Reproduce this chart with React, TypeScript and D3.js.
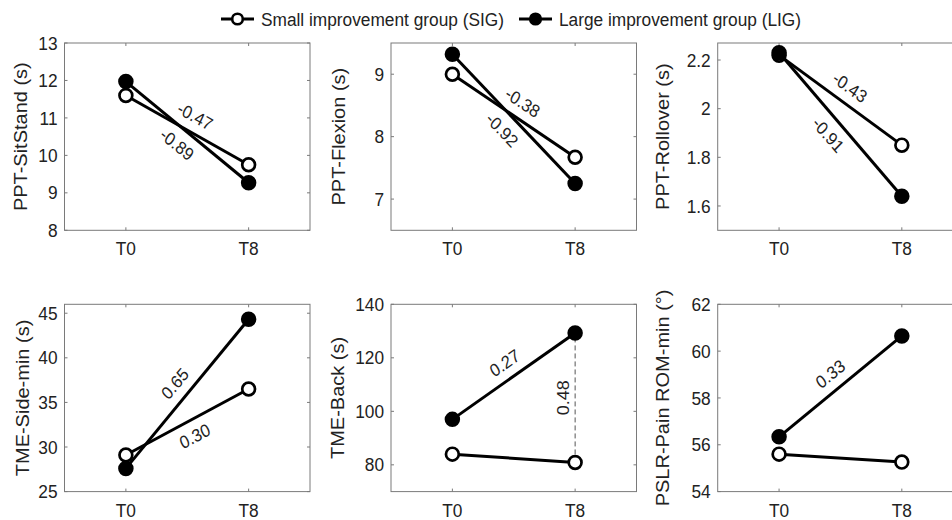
import React from "react";
import * as d3 from "d3";

// ---------- data ----------
const timepoints = ["T0", "T8"];
const measures = [
  "PPT-SitStand (s)",
  "PPT-Flexion (s)",
  "PPT-Rollover (s)",
  "TME-Side-min (s)",
  "TME-Back (s)",
  "PSLR-Pain ROM-min (°)",
];
const sigT0 = [11.6, 9.0, 2.22, 29.1, 84.0, 55.6];
const sigT8 = [9.75, 7.67, 1.85, 36.5, 80.9, 55.26];
const ligT0 = [11.97, 9.32, 2.23, 27.6, 97.0, 56.34];
const ligT8 = [9.27, 7.25, 1.64, 44.33, 129.3, 60.65];
const sigEffect = ["-0.47", "-0.38", "-0.43", "0.30", "", ""];
const ligEffect = ["-0.89", "-0.92", "-0.91", "0.65", "0.27", "0.33"];
const betweenEffectT8 = ["", "", "", "", "0.48", ""];
const yDomains: [number, number][] = [
  [8, 13],
  [6.5, 9.5],
  [1.5, 2.27],
  [25, 46],
  [70, 140],
  [54, 62],
];
const yTicks = [
  [8, 9, 10, 11, 12, 13],
  [7, 8, 9],
  [1.6, 1.8, 2, 2.2],
  [25, 30, 35, 40, 45],
  [80, 100, 120, 140],
  [54, 56, 58, 60, 62],
];
const legendLabels = ["Small improvement group (SIG)", "Large improvement group (LIG)"];

// ---------- layout ----------
const W = 952;
const H = 520;
const colLeft = [64.5, 391, 717.7];
const rowTop = [43, 304.3];
const boxW = 245.5;
const boxH = 187.3;
const ylabelX = [21, 339, 663, 23, 337.5, 663];
// label side: +1 above line, -1 below line
const sigSide = [1, 1, 1, -1, 1, 1];
const ligSide = [-1, -1, -1, 1, 1, 1];
const FONT = "'Liberation Sans', Arial, Helvetica, sans-serif";
const SX = 0.91;
const TXT = "#222222";
const AX = "#7a7a7a";

function Txt({ x, y, rot = 0, anchor = "middle", size = 19, dy = "0.35em", children, fill = TXT }: any) {
  return (
    <text
      transform={`translate(${x},${y}) scale(${SX},1) rotate(${rot})`}
      textAnchor={anchor}
      dy={dy}
      fontSize={size}
      fontFamily={FONT}
      fill={fill}
    >
      {children}
    </text>
  );
}

function EffectLabel({ p0, p1, side, text }: any) {
  if (!text) return null;
  const dx = p1[0] - p0[0];
  const dy = p1[1] - p0[1];
  const len = Math.hypot(dx, dy);
  let nx = dy / len;
  let ny = -dx / len;
  if (ny > 0) {
    nx = -nx;
    ny = -ny;
  }
  const d = 16 * side;
  const cx = (p0[0] + p1[0]) / 2 + nx * d;
  const cy = (p0[1] + p1[1]) / 2 + ny * d;
  const rot = (Math.atan2(dy, dx / SX) * 180) / Math.PI;
  return (
    <Txt x={cx} y={cy} rot={rot} size={18}>
      {text}
    </Txt>
  );
}

function Panel({ i }: { i: number }) {
  const left = colLeft[i % 3];
  const top = rowTop[Math.floor(i / 3)];
  const x = d3.scalePoint<string>().domain(timepoints).range([left, left + boxW]).padding(0.5);
  const y = d3.scaleLinear().domain(yDomains[i]).range([top + boxH, top]);
  const sig = [sigT0[i], sigT8[i]];
  const lig = [ligT0[i], ligT8[i]];
  const line = d3
    .line<number>()
    .x((_, k) => x(timepoints[k]) as number)
    .y((v) => y(v));
  const sigPts = sig.map((v, k) => [x(timepoints[k]) as number, y(v)]);
  const ligPts = lig.map((v, k) => [x(timepoints[k]) as number, y(v)]);
  const tickLen = 3;
  return (
    <g>
      <rect x={left} y={top} width={boxW} height={boxH} fill="white" stroke={AX} strokeWidth={1} />
      {yTicks[i].map((t) => (
        <g key={t}>
          <line x1={left} x2={left + tickLen} y1={y(t)} y2={y(t)} stroke={AX} />
          <line x1={left + boxW} x2={left + boxW - tickLen} y1={y(t)} y2={y(t)} stroke={AX} />
          <Txt x={left - 7} y={y(t)} anchor="end">
            {String(t)}
          </Txt>
        </g>
      ))}
      {timepoints.map((t) => (
        <g key={t}>
          <line x1={x(t)} x2={x(t)} y1={top + boxH} y2={top + boxH - tickLen} stroke={AX} />
          <line x1={x(t)} x2={x(t)} y1={top} y2={top + tickLen} stroke={AX} />
          <Txt x={x(t)} y={top + boxH + 25} dy="0">
            {t}
          </Txt>
        </g>
      ))}
      <Txt x={ylabelX[i]} y={top + boxH / 2} rot={-90} size={20}>
        {measures[i]}
      </Txt>
      {betweenEffectT8[i] && (
        <g>
          <line
            x1={sigPts[1][0]}
            x2={ligPts[1][0]}
            y1={sigPts[1][1]}
            y2={ligPts[1][1]}
            stroke="#555"
            strokeWidth={1}
            strokeDasharray="5,3"
          />
          <Txt x={sigPts[1][0] - 12} y={(sigPts[1][1] + ligPts[1][1]) / 2} rot={-90} size={18}>
            {betweenEffectT8[i]}
          </Txt>
        </g>
      )}
      <path d={line(sig) as string} fill="none" stroke="black" strokeWidth={3} />
      <path d={line(lig) as string} fill="none" stroke="black" strokeWidth={3} />
      {sigPts.map((p, k) => (
        <circle key={"s" + k} cx={p[0]} cy={p[1]} r={6.4} fill="white" stroke="black" strokeWidth={2.7} />
      ))}
      {ligPts.map((p, k) => (
        <circle key={"l" + k} cx={p[0]} cy={p[1]} r={6.4} fill="black" stroke="black" strokeWidth={2.7} />
      ))}
      <EffectLabel p0={sigPts[0]} p1={sigPts[1]} side={sigSide[i]} text={sigEffect[i]} />
      <EffectLabel p0={ligPts[0]} p1={ligPts[1]} side={ligSide[i]} text={ligEffect[i]} />
    </g>
  );
}

function Legend() {
  const items = [
    { x0: 221, fill: "white" },
    { x0: 519, fill: "black" },
  ];
  const ly = 19;
  return (
    <g>
      {items.map((it, k) => (
        <g key={k}>
          <line x1={it.x0} x2={it.x0 + 33} y1={ly} y2={ly} stroke="black" strokeWidth={3} />
          <circle cx={it.x0 + 16.5} cy={ly} r={5.3} fill={it.fill} stroke="black" strokeWidth={2.6} />
          <Txt x={it.x0 + 40} y={ly} anchor="start" size={19}>
            {legendLabels[k]}
          </Txt>
        </g>
      ))}
    </g>
  );
}

export default function App() {
  return (
    <svg
      width={W}
      height={H}
      viewBox={`0 0 ${W} ${H}`}
      style={{ position: "absolute", left: 0, top: 0, background: "white" }}
    >
      <rect width={W} height={H} fill="white" />
      {measures.map((_, i) => (
        <Panel key={i} i={i} />
      ))}
      <Legend />
    </svg>
  );
}
